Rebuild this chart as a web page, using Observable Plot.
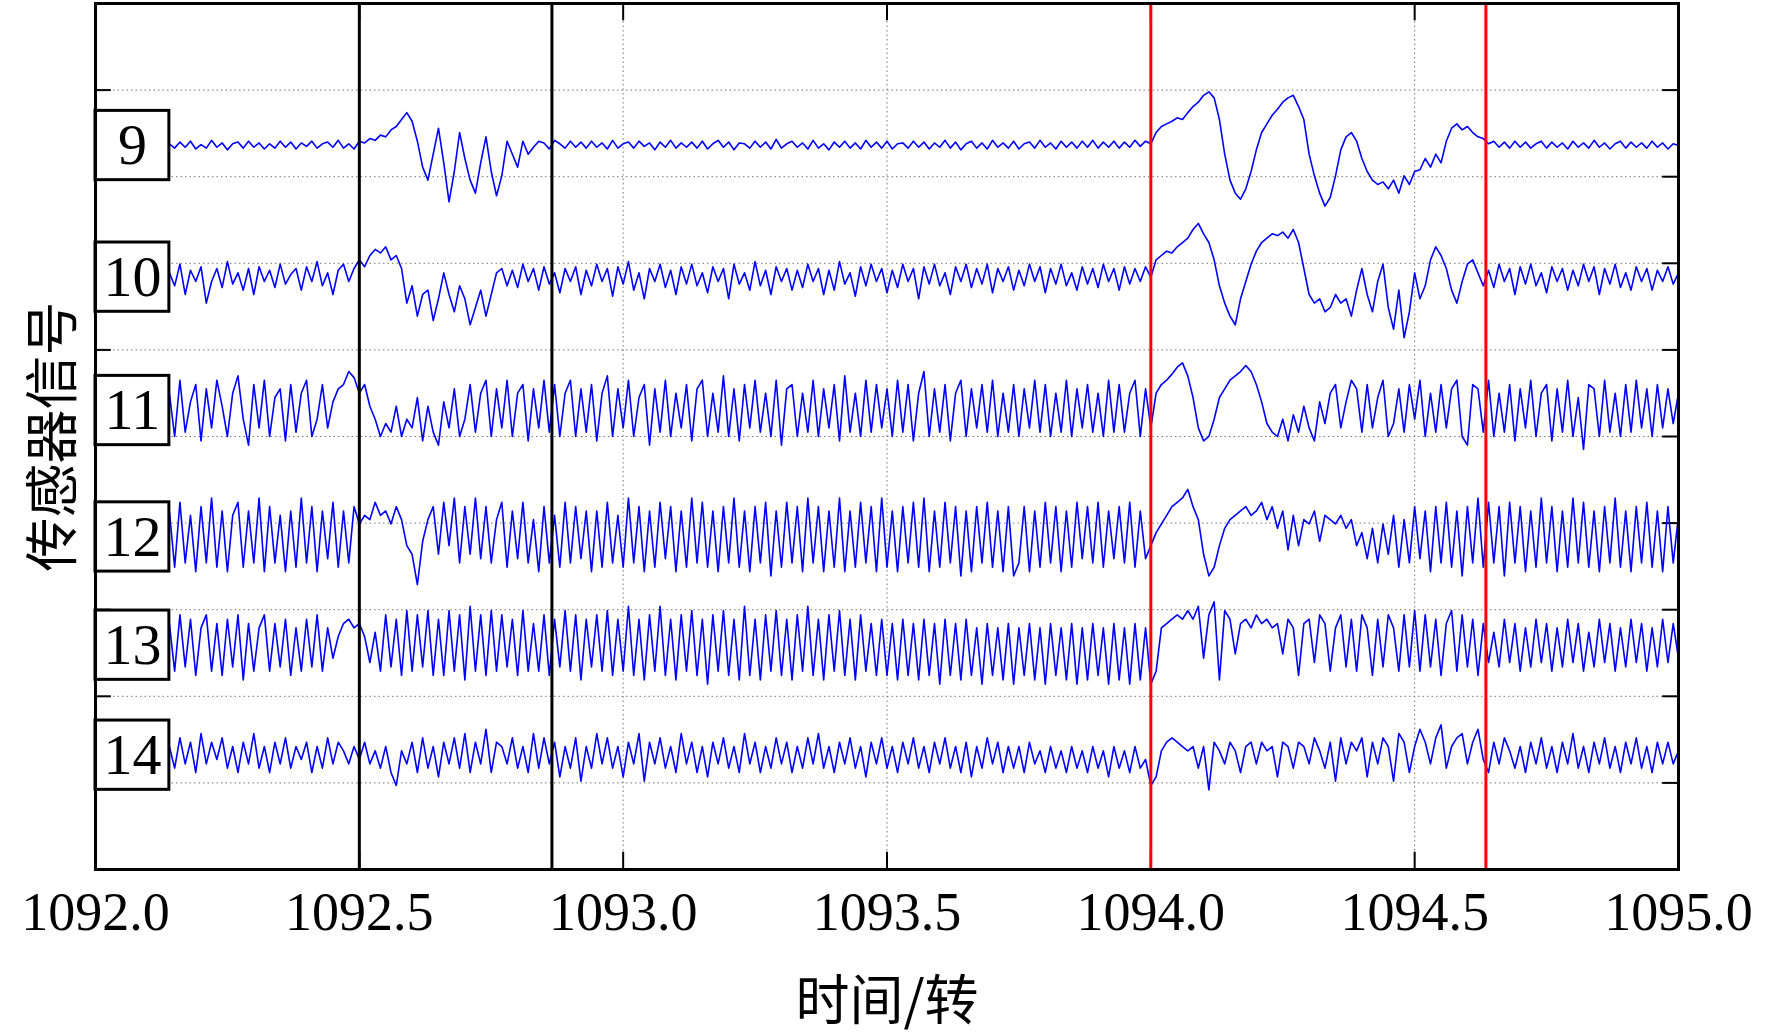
<!DOCTYPE html>
<html><head><meta charset="utf-8">
<script src="https://cdn.jsdelivr.net/npm/d3@7"></script>
<script src="https://cdn.jsdelivr.net/npm/@observablehq/plot@0.6"></script>
<style>body{margin:0;background:#fff}</style>
</head><body><div id="chart"></div>
<script>
const xTicks = [1092.0,1092.5,1093.0,1093.5,1094.0,1094.5,1095.0];
const yGrid = [1,2,3,4,5,6,7,8,9];
const sensors = ["9","10","11","12","13","14"];
const centers = [8.36,6.84,5.3,3.84,2.59,1.32];
const blackLines = [1092.5,1092.865];
const redLines = [1094.0,1094.635];
const tStart = 1092.14, tEnd = 1095.0;
// signal samples (hundredths of a unit), evenly spaced from tStart to tEnd
const s9 = [2,-3,4,-2,5,-4,1,-3,6,-2,3,-5,2,4,-3,5,-2,3,-4,2,
-3,5,-2,4,-4,3,-1,5,-3,2,4,-2,6,-3,2,-4,5,3,8,6,
12,10,18,22,30,38,28,5,-25,-40,-10,20,-20,-65,-30,15,-15,-40,-55,-20,
10,-30,-58,-35,5,-10,-25,5,-10,-2,5,3,-4,6,2,-3,5,-2,4,-3,
5,-2,3,-4,6,-3,2,4,-3,5,-1,3,-5,4,-2,6,-3,3,-2,4,
-3,5,-4,2,6,-2,4,-5,3,2,-3,5,-2,4,-4,7,-3,2,5,-2,
3,-4,6,-3,2,-5,4,-2,5,-3,3,-4,6,-2,4,-3,5,-4,2,3,
-3,5,-2,4,-4,3,-2,6,-3,4,-5,2,5,-3,3,-4,6,-2,3,-3,
5,-4,2,4,-3,6,-2,3,-4,5,-2,4,-3,5,-2,6,-3,4,-2,5,
-3,4,-2,6,-1,5,2,15,22,25,28,32,30,38,45,50,58,62,55,30,
-10,-40,-55,-62,-50,-30,-5,15,25,35,42,50,55,58,45,30,-10,-35,-55,-70,
-60,-35,-5,10,15,5,-15,-30,-40,-45,-42,-50,-40,-55,-35,-45,-30,-28,-15,-25,
-10,-20,5,20,25,18,22,15,10,8,2,5,-2,4,-3,5,-2,4,-3,2,
5,-3,4,-2,3,-4,5,-2,3,-3,6,-2,3,-4,2,5,-3,4,-2,3,
-3,5,-2,3,-4,2,0];
const s10 = [5,-10,15,-20,8,-5,12,-30,-5,10,-12,18,-8,5,-15,10,-20,12,-5,8,
-12,15,-8,3,10,-15,12,-5,18,-10,5,-20,8,15,-5,10,20,12,25,32,
28,35,20,25,10,-30,-10,-45,-20,-15,-50,-25,5,-20,-40,-10,-25,-55,-35,-15,
-45,-20,5,10,-10,8,-12,15,-5,10,-15,12,-8,5,-18,10,-5,12,-20,8,
-10,15,-5,10,-22,12,-8,18,-15,5,-25,10,-5,15,-12,8,-20,12,-8,15,
-10,5,-18,12,-5,10,-25,15,-8,5,-15,18,-10,8,-20,12,-5,10,-15,8,
-12,15,-5,10,-20,8,-15,18,-8,5,-22,12,-10,15,-5,10,-18,8,-12,15,
-5,10,-25,12,-8,15,-10,5,-20,12,-5,15,-12,10,-8,15,-18,10,-5,12,
-15,8,-10,15,-5,12,-18,10,-8,15,-10,5,-15,12,-8,10,-12,15,-5,10,
-15,12,-8,10,-5,12,0,20,25,30,28,35,40,45,55,62,50,40,20,-10,
-30,-45,-55,-25,-5,15,30,40,45,50,48,52,45,55,40,10,-20,-30,-25,-40,
-35,-20,-30,-25,-45,-15,10,-20,-40,-5,15,-35,-60,-15,-70,-40,5,-25,-10,20,
35,25,10,-15,-30,-5,15,20,5,-10,8,-12,15,-5,10,-20,12,-8,15,-10,
5,-18,12,-5,10,-15,8,-10,15,-5,12,-20,10,-8,15,-12,5,-15,12,-5,
10,-15,8,-5,12,-8,5];
const s11 = [20,-30,35,-25,10,30,-35,25,-20,35,5,-30,20,40,-10,-40,30,-20,35,-30,
15,25,-35,30,-25,20,35,-30,-10,30,-20,10,25,30,45,38,20,30,5,-10,
-30,-15,-25,5,-30,-10,-20,15,-35,5,-25,-40,10,-20,25,-30,-10,30,-25,20,
35,-30,25,-20,35,-30,20,30,-35,25,-20,35,-25,30,-30,20,35,-30,25,-25,
30,-35,20,40,-30,25,-20,35,-30,15,30,-40,25,-25,35,-30,20,-20,30,-35,
25,35,-30,20,-25,40,-30,25,-35,30,-20,35,-25,20,-30,35,-40,25,30,-30,
20,-25,35,-30,25,-20,30,-35,40,-25,20,-30,35,-25,30,-20,25,-30,35,-25,
30,-35,20,45,-30,25,-25,30,-35,20,35,-30,25,-20,30,-25,35,-30,20,-25,
30,-30,25,-20,35,-25,30,-30,20,-25,35,-30,25,-20,30,-25,20,-30,35,-25,
30,-25,20,35,-30,25,-20,20,30,35,42,50,55,40,15,-20,-35,-30,-10,15,
25,35,40,45,52,45,30,10,-15,-25,-30,-10,-35,-5,-25,5,-20,-35,10,-15,
20,30,-20,10,35,25,-25,30,-20,15,35,-30,-15,25,-25,30,-10,35,-30,20,
-25,30,-20,25,35,-30,-40,30,25,-25,35,-30,20,-25,30,-35,25,-20,35,-30,
20,30,-35,25,-25,35,-30,15,-45,30,25,-30,35,-25,20,-30,30,-25,35,-20,
25,-30,30,-20,25,-15,20];
const s12 = [30,-35,40,-30,25,-40,35,-30,45,-35,30,-40,25,40,-35,30,-30,45,-40,35,
-30,25,-40,30,-35,45,-30,35,-40,30,-25,40,-35,30,-30,35,15,25,20,40,
25,30,15,35,20,-10,-20,-55,-5,20,35,-20,40,-10,45,-30,35,-20,45,-25,
35,-30,20,40,-35,30,-25,40,-30,20,-40,35,-30,25,-35,40,-30,35,-25,30,
-40,30,-35,40,-30,25,-35,45,-30,35,-40,30,-35,40,-25,35,-40,30,-35,45,
-30,40,-35,30,-40,35,-30,45,-35,30,-40,35,-30,40,-45,30,-35,40,-30,35,
-40,45,-30,35,-40,30,-35,45,-40,30,-35,40,-30,35,-40,45,-35,30,-40,35,
-30,40,-35,45,-40,30,-35,40,-30,35,-45,30,-40,35,-30,40,-35,30,-40,35,
-45,-30,35,-40,30,-35,40,-30,35,-40,30,-35,40,-25,35,-30,40,-35,30,-25,
35,-30,40,-35,30,-25,-10,5,15,25,35,40,45,55,35,20,-20,-45,-35,-10,
10,20,25,30,35,25,30,40,20,35,10,30,-15,25,-10,20,15,30,-5,25,
20,15,25,10,20,-10,5,-25,10,-30,15,-20,25,-35,20,-30,35,-25,30,-40,
35,-30,40,-35,30,-45,35,-30,45,-35,40,-30,35,-45,40,-30,35,-40,30,-35,
45,-30,35,-40,30,-35,45,-30,40,-35,30,-40,35,-30,45,-35,30,-40,35,-30,
40,-35,30,-40,35,-30,25];
const s13 = [25,-30,35,-25,30,-35,20,35,-30,25,-35,30,-25,35,-40,25,-30,20,35,-30,
25,-25,30,-35,20,-30,30,-25,35,-30,20,-15,10,25,30,20,25,10,-20,15,
-30,35,-25,30,-35,40,-30,35,-25,40,-35,30,-35,40,-30,35,-40,45,-30,35,
-35,40,-30,35,-25,30,-35,40,-30,25,-30,35,-35,30,-25,40,-30,35,-40,30,
-25,35,-30,40,-35,30,-30,45,-35,30,-40,35,-30,45,-35,30,-40,35,-30,40,
-35,30,-45,35,-30,40,-35,30,-40,45,-35,30,-40,35,-30,40,-35,30,-40,35,
-30,45,-35,30,-40,35,-30,40,-35,30,-40,35,-30,25,-35,30,-35,25,-40,30,
-35,25,-40,30,-35,25,-45,30,-35,25,-40,30,-35,20,-45,25,-35,20,-40,25,
-45,20,-35,25,-40,20,-45,25,-35,20,-40,25,-45,20,-40,25,-35,20,-45,25,
-40,20,-45,25,-40,20,-45,-30,20,25,30,35,30,40,30,45,-15,35,50,-40,
40,30,-10,25,30,20,35,25,30,20,25,-10,30,20,-35,25,30,-20,35,25,
-30,20,35,-25,30,-30,35,20,-35,30,-25,35,20,-30,35,-25,40,-30,35,-25,
30,-35,25,40,-30,35,-25,30,-35,25,-20,15,-25,30,-20,25,-30,20,-25,30,
-20,25,-30,20,-25,30,-20,25,-30,15,-25,30,-20,25,-30,20,-25,30,-20,25,
-30,20,-25,30,-20,25,-15];
const s14 = [10,-15,20,-10,15,-20,25,-10,15,-5,20,-15,10,-20,15,-10,25,-15,10,-20,
15,-10,20,-15,10,-5,15,-20,10,-15,20,-10,15,5,-10,10,-5,15,-10,5,
-15,10,-20,-35,5,-10,15,-20,20,-15,10,-25,15,-10,20,-15,25,-20,15,-10,
30,-20,15,10,-10,20,-15,10,-20,25,-15,20,-10,15,-25,10,-15,20,-30,10,
-15,25,-10,20,-15,10,-25,15,-10,25,-30,15,-10,20,-15,10,-20,25,-10,15,
-20,10,-25,15,-10,20,-15,10,-20,25,-10,15,-20,10,-15,20,-10,15,-20,10,
-15,20,-10,25,-15,10,-20,15,-10,20,-15,10,-25,15,-10,20,-15,10,-20,15,
-10,20,-15,10,-20,15,-10,20,-15,10,-20,15,-25,10,-15,20,-10,15,-20,10,
-15,10,-20,15,-10,5,-20,10,-15,5,-20,10,-15,5,-20,10,-15,5,-25,10,
-15,5,-20,10,-15,-5,-35,-25,5,15,20,15,10,5,10,-15,10,-40,15,5,
-10,15,5,-20,10,15,-10,15,5,10,-25,15,10,-15,15,10,-10,20,5,-15,
15,-30,20,-10,15,5,20,-25,15,-10,20,10,-30,25,15,-20,10,30,15,-10,
20,35,-15,10,20,25,-10,15,30,-5,-20,15,-10,20,5,-15,10,-20,15,-10,
20,-15,10,-20,15,-10,25,-15,10,-20,15,-10,20,-15,10,-20,15,-10,20,-15,
10,-20,15,-10,15,-10,5];
const signals = [s9,s10,s11,s12,s13,s14];

const rows = [];
signals.forEach((s, k) => s.forEach((v, i) => rows.push({
  sensor: sensors[k],
  t: tStart + (tEnd - tStart) * i / (s.length - 1),
  y: centers[k] + v / 100
})));
const boxes = sensors.map((s, k) => ({label: s, c: centers[k]}));

const chart = Plot.plot({
  width: 1772, height: 1035,
  marginLeft: 95, marginRight: 94, marginTop: 3, marginBottom: 166,
  x: {domain: [1092, 1095]},
  y: {domain: [0, 10]},
  style: {fontFamily: "'Liberation Serif', serif", background: "#fff"},
  marks: [
    Plot.ruleY(yGrid, {stroke: "#777", strokeDasharray: "1.5,3", strokeWidth: 1}),
    Plot.ruleX([1093.0, 1093.5, 1094.5], {stroke: "#777", strokeDasharray: "1.5,3", strokeWidth: 1}),
    Plot.ruleX(xTicks, {y1: 0, y2: 0.2, stroke: "#000", strokeWidth: 2}),
    Plot.ruleX(xTicks, {y1: 9.8, y2: 10, stroke: "#000", strokeWidth: 2}),
    Plot.ruleY(yGrid, {x1: 1092, x2: 1092.03, stroke: "#000", strokeWidth: 2}),
    Plot.ruleY(yGrid, {x1: 1094.97, x2: 1095, stroke: "#000", strokeWidth: 2}),
    Plot.line(rows, {x: "t", y: "y", z: "sensor", stroke: "#0000ff", strokeWidth: 1.6}),
    Plot.ruleX(blackLines, {stroke: "#000", strokeWidth: 3}),
    Plot.ruleX(redLines, {stroke: "#ff0000", strokeWidth: 3}),
    Plot.ruleY([0], {x1: redLines[0], x2: redLines[1], stroke: "#ff0000", strokeWidth: 3}),
    Plot.rect(boxes, {x1: 1092.0, x2: 1092.14, y1: d => d.c - 0.4, y2: d => d.c + 0.4, fill: "#fff", stroke: "#000", strokeWidth: 3}),
    Plot.text(boxes, {x: 1092.07, y: "c", text: "label", fontSize: 58, fill: "#000"}),
    Plot.frame({stroke: "#000", strokeWidth: 3}),
    Plot.axisX(xTicks, {tickFormat: d3.format(".1f"), tickSize: 0, tickPadding: 22, fontSize: 54,
      label: "时间/转", labelAnchor: "center", labelOffset: 150, labelArrow: "none"}),
    Plot.axisY([], {label: "传感器信号", labelAnchor: "center", labelOffset: 62, labelArrow: "none", fontSize: 54})
  ]
});
chart.querySelectorAll("text").forEach(t => { if (/[\u4e00-\u9fff]/.test(t.textContent)) t.style.fontFamily = "'Noto Sans CJK SC'"; });
document.getElementById("chart").append(chart);
</script>
</body></html>
